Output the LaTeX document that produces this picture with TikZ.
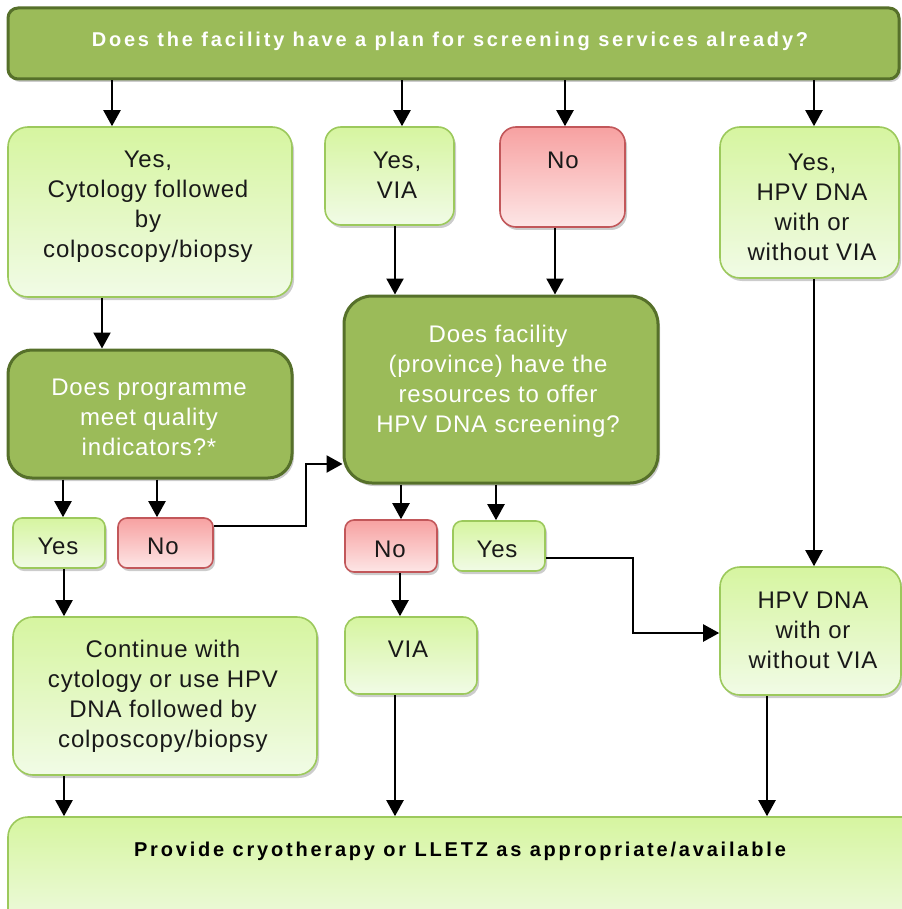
\documentclass[tikz,border=0pt]{standalone}
\usepackage{fontspec}
\setmainfont{Liberation Sans}[LetterSpace=3.5]
\newfontfamily\hfont{Liberation Sans}[LetterSpace=14]
\usetikzlibrary{arrows.meta,shadows,fit}
\definecolor{dgfill}{HTML}{9BBB59}
\definecolor{dgdraw}{HTML}{56702A}
\definecolor{lgtop}{HTML}{D6F5A0}
\definecolor{lgbot}{HTML}{F1FBE6}
\definecolor{lgdraw}{HTML}{9CC95C}
\definecolor{rdtop}{HTML}{F7A1A1}
\definecolor{rdbot}{HTML}{FDE6E6}
\definecolor{rddraw}{HTML}{C2575A}
\begin{document}
\begin{tikzpicture}[x=1pt,y=-1pt,
  shad/.style={drop shadow={shadow xshift=2pt,shadow yshift=-3pt,opacity=0.2,fill=black}},
  base/.style={rectangle,inner sep=0pt,shad},
  lg/.style={base,draw=lgdraw,line width=1.6pt,top color=lgtop,bottom color=lgbot,rounded corners=20pt},
  lgs/.style={lg,rounded corners=9pt},
  rd/.style={base,draw=rddraw,line width=1.6pt,top color=rdtop,bottom color=rdbot,rounded corners=20pt},
  rds/.style={rd,rounded corners=9pt},
  dg/.style={base,draw=dgdraw,line width=3pt,fill=dgfill,rounded corners=24pt},
  txt/.style={align=center,inner sep=0pt,text=black!90,font=\fontsize{24}{30}\selectfont},
  wtxt/.style={txt,text=white},
  htxt/.style={align=center,inner sep=0pt,font=\hfont\bfseries\fontsize{20}{24}\selectfont},
  arr/.style={line width=2.2pt,-{Triangle[length=16pt,width=17pt]}}
]
\useasboundingbox (0,0) rectangle (901,909);

% boxes
\node[dg,rounded corners=10pt,fit={(8,8) (899,79)}] (T) {};
\node[lg,fit={(8,127) (292,297)}] (A) {};
\node[lg,rounded corners=16pt,fit={(325,127) (454,225)}] (B) {};
\node[rd,rounded corners=16pt,fit={(500,127) (625,227)}] (C) {};
\node[lg,fit={(720,127) (899,278)}] (D) {};
\node[dg,fit={(8,350) (292,478)}] (E) {};
\node[dg,rounded corners=28pt,fit={(344,296) (658,483)}] (F) {};
\node[lgs,fit={(13,518) (105,568)}] (Y1) {};
\node[rds,fit={(118,518) (213,568)}] (N1) {};
\node[rds,fit={(345,520) (437,572)}] (N2) {};
\node[lgs,fit={(453,521) (545,571)}] (Y2) {};
\node[lg,rounded corners=14pt,fit={(345,617) (477,694)}] (V) {};
\node[lg,fit={(720,567) (901,695)}] (J) {};
\node[lg,fit={(13,617) (317,775)}] (K) {};
\node[lg,fit={(8,817) (930,940)}] (L) {};

% texts
\node[htxt,text=white] (tT) at (450,41) {Does the facility have a plan for screening services already?};
\node[txt] (tA) at (148,207) {Yes,\\Cytology followed\\by\\colposcopy/biopsy};
\node[txt] (tB) at (397,175) {Yes,\\VIA};
\node[txt] (tC) at (563,160) {No};
\node[txt] (tD) at (812,207) {Yes,\\HPV DNA\\with or\\without VIA};
\node[wtxt] (tE) at (149,417) {Does programme\\meet quality\\indicators?*};
\node[wtxt] (tF) at (498,381) {Does facility\\(province) have the\\resources to offer\\HPV DNA screening?};
\node[txt] (tY1) at (58,546) {Yes};
\node[txt] (tN1) at (163,546) {No};
\node[txt] (tN2) at (390,549) {No};
\node[txt] (tY2) at (497,549) {Yes};
\node[txt] (tV) at (408,649) {VIA};
\node[txt] (tJ) at (813,630) {HPV DNA\\with or\\without VIA};
\node[txt] (tK) at (163,696) {Continue with\\cytology or use HPV\\DNA followed by\\colposcopy/biopsy};
\node[htxt] (tL) at (460,851) {Provide cryotherapy or LLETZ as appropriate/available};

% connectors
\draw[arr] (T.south -| 112,0) -- (A.north -| 112,0);
\draw[arr] (T.south -| 402,0) -- (B.north -| 402,0);
\draw[arr] (T.south -| 565,0) -- (C.north -| 565,0);
\draw[arr] (T.south -| 814,0) -- (D.north -| 814,0);
\draw[arr] (A.south -| 102,0) -- (E.north -| 102,0);
\draw[arr] (B.south -| 395,0) -- (F.north -| 395,0);
\draw[arr] (C.south -| 555,0) -- (F.north -| 555,0);
\draw[arr] (D.south -| 814,0) -- (J.north -| 814,0);
\draw[arr] (E.south -| 63,0) -- (Y1.north -| 63,0);
\draw[arr] (E.south -| 157,0) -- (N1.north -| 157,0);
\draw[arr] (N1.east |- 0,526) -- (306,526) |- (F.west |- 0,464);
\draw[arr] (F.south -| 401,0) -- (N2.north -| 401,0);
\draw[arr] (F.south -| 496,0) -- (Y2.north -| 496,0);
\draw[arr] (Y2.east |- 0,558) -- (633,558) |- (J.west |- 0,633);
\draw[arr] (N2.south -| 400,0) -- (V.north -| 400,0);
\draw[arr] (Y1.south -| 64,0) -- (K.north -| 64,0);
\draw[arr] (K.south -| 64,0) -- (L.north -| 64,0);
\draw[arr] (V.south -| 395,0) -- (L.north -| 395,0);
\draw[arr] (J.south -| 767,0) -- (L.north -| 767,0);
\end{tikzpicture}
\end{document}
